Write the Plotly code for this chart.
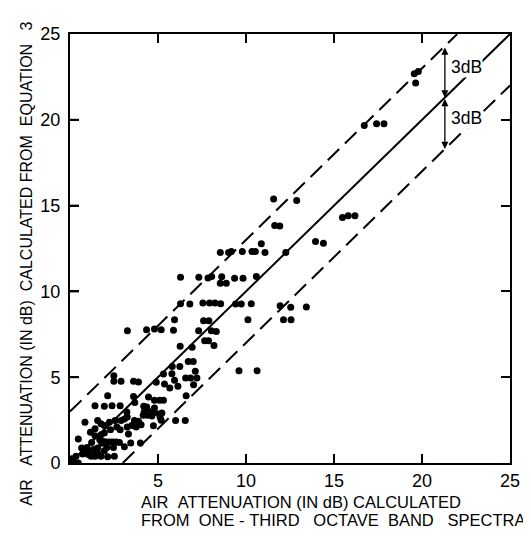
import plotly.graph_objects as go

# Scatter data: attenuation from 1/3-octave spectra (x) vs. from equation 3 (y), dB
x_vals = [19.56, 19.79, 19.64, 16.72, 17.42, 17.84, 11.57, 12.88, 11.63, 11.92,
          15.48, 15.81, 16.19, 13.95, 14.40, 8.54, 9.01, 9.17, 9.79, 10.34,
          10.53, 10.87, 11.08, 12.26, 6.28, 7.32, 7.84, 8.05, 8.62, 8.54,
          8.88, 9.35, 9.83, 10.59, 6.28, 6.81, 7.55, 7.93, 8.24, 8.56,
          9.41, 9.73, 10.30, 10.11, 7.59, 7.89, 11.94, 12.13, 12.54, 12.56,
          13.43, 5.94, 5.88, 3.26, 4.35, 4.80, 5.18, 7.31, 8.03, 8.31,
          7.65, 7.87, 8.18, 6.26, 6.94, 6.72, 7.00, 5.81, 6.24, 9.60,
          10.63, 7.12, 5.79, 5.31, 2.49, 2.49, 2.90, 3.61, 3.89, 4.90,
          5.37, 5.67, 6.13, 5.94, 6.57, 6.85, 7.21, 7.02, 2.14, 3.61,
          4.46, 4.80, 5.09, 5.31, 6.60, 3.68, 1.42, 1.95, 2.39, 2.85,
          4.19, 4.36, 4.46, 4.80, 4.80, 5.07, 5.22, 3.23, 4.16, 4.21,
          4.40, 4.65, 3.25, 3.66, 3.89, 2.90, 2.56, 2.24, 1.95, 1.76,
          1.57, 0.85, 1.16, 1.42, 2.30, 2.85, 2.66, 3.25, 3.51, 3.32,
          3.76, 4.74, 5.18, 6.00, 6.55, 5.12, 4.04, 3.09, 4.00, 3.45,
          3.09, 0.47, 0.66, 0.97, 1.23, 1.42, 1.69, 1.80, 1.90, 2.09,
          2.26, 2.43, 2.62, 2.81, 2.09, 2.47, 1.95, 1.76, 2.14, 2.52,
          1.04, 1.20, 1.42, 1.57, 1.33, 0.85, 1.08, 0.47, 0.09, 0.21,
          0.34, 0.06, 0.72, 1.57, 1.76, 1.95]
y_vals = [22.68, 22.82, 22.14, 19.67, 19.77, 19.77, 15.38, 15.30, 13.84, 13.81,
          14.31, 14.41, 14.41, 12.91, 12.80, 12.27, 12.27, 12.33, 12.33, 12.33,
          12.33, 12.78, 12.27, 12.27, 10.82, 10.82, 10.78, 10.87, 10.85, 10.47,
          10.47, 10.76, 10.76, 10.87, 9.28, 9.26, 9.32, 9.32, 9.32, 9.28,
          9.26, 9.26, 9.28, 8.35, 8.29, 8.29, 9.17, 8.35, 9.07, 8.35,
          9.09, 8.35, 7.73, 7.71, 7.77, 7.81, 7.77, 7.71, 7.71, 7.67,
          7.13, 7.13, 6.85, 6.80, 6.74, 5.92, 5.92, 5.63, 5.63, 5.38,
          5.38, 5.34, 5.20, 5.18, 5.09, 4.76, 4.76, 4.76, 4.72, 4.70,
          4.60, 4.37, 4.47, 4.82, 4.95, 4.95, 4.95, 4.56, 3.92, 3.88,
          3.84, 3.65, 3.65, 3.65, 3.92, 3.53, 3.34, 3.30, 3.34, 3.34,
          3.30, 3.26, 3.01, 3.20, 2.95, 2.85, 2.91, 2.97, 2.78, 2.97,
          2.78, 2.74, 2.68, 2.47, 2.43, 2.47, 2.47, 2.37, 2.19, 2.29,
          2.47, 2.37, 1.79, 2.00, 1.94, 1.94, 2.10, 2.10, 2.19, 1.69,
          2.10, 2.17, 2.49, 2.47, 2.47, 2.66, 2.23, 2.56, 1.17, 1.17,
          0.95, 1.40, 0.87, 0.91, 1.20, 1.59, 1.36, 1.15, 1.26, 1.22,
          1.22, 1.22, 1.22, 1.20, 0.91, 0.91, 0.72, 0.39, 0.37, 0.39,
          0.49, 0.39, 0.39, 0.58, 0.78, 0.78, 0.68, 0.0, 0.25, 0.10,
          0.39, 0.0, 0.52, 0.87, 1.65, 1.75]

axis_range = [0, 25]
x_ticks = [5, 10, 15, 20, 25]
y_ticks = [0, 5, 10, 15, 20, 25]
inner_ticks = [5, 10, 15, 20]
band_offsets = [3, -3]      # +/- 3 dB tolerance band
arrow_x = 21.3
band_label = "3dB"

NB = "\u00a0"
y_title = ("AIR" + NB * 3 + "ATTENUATION" + NB + "(IN" + NB + "dB)" + NB * 2 +
           "CALCULATED" + NB + "FROM" + NB * 2 + "EQUATION" + NB * 3 + "3")
x_title_1 = "AIR" + NB * 2 + "ATTENUATION" + NB + "(IN" + NB + "dB)" + NB + "CALCULATED"
x_title_2 = ("FROM" + NB * 2 + "ONE" + NB + "-" + NB + "THIRD" + NB * 3 + "OCTAVE" +
             NB * 2 + "BAND" + NB * 3 + "SPECTRA")

FONT = "Liberation Sans"
W, H = 531, 543
M = dict(l=62, r=29, t=26, b=88)
TICK_PX = 9
TICK_W = 2

fig = go.Figure()

lo, hi = axis_range
# identity line
fig.add_trace(go.Scatter(x=[lo, hi], y=[lo, hi], mode="lines",
                         line=dict(color="black", width=2), showlegend=False,
                         hoverinfo="skip"))
# +/-3 dB dashed lines, clipped to the axis box
for off in band_offsets:
    x0 = max(lo, lo - off)
    x1 = min(hi, hi - off)
    fig.add_trace(go.Scatter(x=[x0, x1], y=[x0 + off, x1 + off], mode="lines",
                             line=dict(color="black", width=2, dash="16px,8px"),
                             showlegend=False, hoverinfo="skip"))

fig.add_trace(go.Scatter(x=x_vals, y=y_vals, mode="markers",
                         marker=dict(color="black", size=7), showlegend=False))

# inward ticks along the bottom and left edges, pixel-sized, anchored at the tick values
for t in inner_ticks:
    fig.add_shape(type="line", xref="x", yref="y", layer="above",
                  x0=t, x1=t, ysizemode="pixel", yanchor=lo, y0=0, y1=TICK_PX,
                  line=dict(color="black", width=TICK_W))
    fig.add_shape(type="line", xref="x", yref="y", layer="above",
                  y0=t, y1=t, xsizemode="pixel", xanchor=lo, x0=0, x1=TICK_PX,
                  line=dict(color="black", width=TICK_W))

# double arrows showing 3 dB spans
for top_off, bot_off in [(band_offsets[0], 0), (0, band_offsets[1])]:
    fig.add_annotation(x=arrow_x, y=arrow_x + bot_off, ax=arrow_x, ay=arrow_x + top_off,
                       xref="x", yref="y", axref="x", ayref="y", text="",
                       showarrow=True, arrowhead=2, arrowside="end+start",
                       arrowsize=1.1, arrowwidth=1.3, arrowcolor="black",
                       standoff=0, startstandoff=0)
    fig.add_annotation(x=arrow_x + 0.3, y=arrow_x + (top_off + bot_off) / 2 + 0.3,
                       xref="x", yref="y", text=band_label, showarrow=False,
                       xanchor="left", yanchor="middle", bgcolor="white", borderpad=0,
                       font=dict(family=FONT, size=17.5, color="black"))

# axis titles
fig.add_annotation(x=-0.098, y=0.464, xref="paper", yref="paper", text=y_title,
                   textangle=-90, showarrow=False, xanchor="center", yanchor="middle",
                   font=dict(family=FONT, size=16, color="black"))
fig.add_annotation(x=0.157, y=-0.092, xref="paper", yref="paper", text=x_title_1,
                   showarrow=False, xanchor="left", yanchor="middle",
                   font=dict(family=FONT, size=16.5, color="black"))
fig.add_annotation(x=0.157, y=-0.133, xref="paper", yref="paper", text=x_title_2,
                   showarrow=False, xanchor="left", yanchor="middle",
                   font=dict(family=FONT, size=16.5, color="black"))

axis_common = dict(range=axis_range, showgrid=False, zeroline=False,
                   showline=True, linecolor="black", linewidth=2, mirror="ticks",
                   ticks="inside", ticklen=TICK_PX, tickwidth=TICK_W, tickcolor="black",
                   tickfont=dict(family=FONT, size=18, color="black"))
fig.update_xaxes(tickvals=x_ticks, **axis_common)
fig.update_yaxes(tickvals=y_ticks, ticklabelstandoff=4, **axis_common)

fig.update_layout(width=W, height=H, margin=M,
                  plot_bgcolor="white", paper_bgcolor="white")

fig.write_html("out.html")
